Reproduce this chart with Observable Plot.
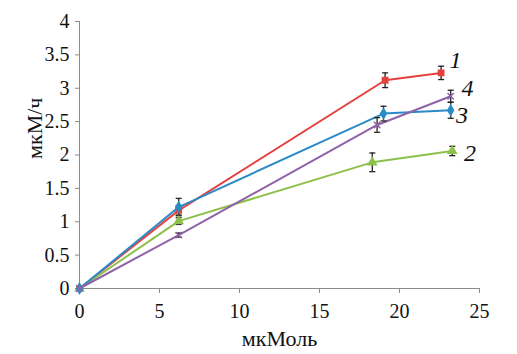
<!DOCTYPE html>
<html><head><meta charset="utf-8">
<script src="https://cdn.jsdelivr.net/npm/d3@7"></script>
<script src="https://cdn.jsdelivr.net/npm/@observablehq/plot@0.6"></script>
<style>body{margin:0;background:#fff}</style>
</head><body><div id="chart"></div>
<script>
const seriesNames = ["1", "2", "3", "4"];
const seriesColors = ["#E5413E", "#8DC04A", "#2A8BC8", "#9062A8"];
const s1x = [0, 6.2, 19.1, 22.6], s1y = [0, 1.17, 3.12, 3.23], s1e = [0, 0.07, 0.11, 0.1];
const s2x = [0, 6.2, 18.3, 23.3], s2y = [0, 1.01, 1.89, 2.06], s2e = [0, 0.05, 0.14, 0.07];
const s3x = [0, 6.2, 19.0, 23.2], s3y = [0, 1.22, 2.62, 2.67], s3e = [0, 0.13, 0.11, 0.12];
const s4x = [0, 6.2, 18.6, 23.2], s4y = [0, 0.80, 2.45, 2.88], s4e = [0, 0.03, 0.11, 0.09];
const labelX = [23.5, 24.4, 23.9, 24.25];
const labelY = [3.42, 2.02, 2.59, 3.0];
const xTicks = [0, 5, 10, 15, 20, 25];
const yTicks = [0, 0.5, 1, 1.5, 2, 2.5, 3, 3.5, 4];

const xs = [s1x, s2x, s3x, s4x], ys = [s1y, s2y, s3y, s4y], es = [s1e, s2e, s3e, s4e];
const data = [];
seriesNames.forEach((s, i) => xs[i].forEach((x, j) => data.push({s, x, y: ys[i][j], e: es[i][j]})));
const errData = data.filter(d => d.e > 0);
const labels = seriesNames.map((s, i) => ({s, x: labelX[i], y: labelY[i]}));
const symbols = ["square", "triangle", "diamond", "times"];
const capSym = {draw(ctx, size) { const r = Math.sqrt(size); ctx.moveTo(-r, 0); ctx.lineTo(r, 0); }};
const gray = "#8a8a8a";
const font = "Liberation Serif";

const chart = Plot.plot({
  width: 517, height: 354,
  marginLeft: 79, marginRight: 38, marginTop: 21, marginBottom: 66,
  style: {fontFamily: font, fontSize: "20px", color: "#111", background: "#fff"},
  x: {domain: [0, 25]},
  y: {domain: [0, 4]},
  color: {domain: seriesNames, range: seriesColors},
  symbol: {domain: seriesNames, range: symbols},
  marks: [
    Plot.axisX({ticks: xTicks, tickSize: 5, tickPadding: 10, label: null, stroke: gray, fontSize: 20, fill: "#111"}),
    Plot.axisY({ticks: yTicks, tickSize: 4, tickPadding: 6, label: null, stroke: gray, fontSize: 20, fill: "#111", tickFormat: d => String(d)}),
    Plot.ruleY([0], {stroke: gray}),
    Plot.ruleX([0], {stroke: gray}),
    Plot.line(data, {x: "x", y: "y", z: "s", stroke: "s", strokeWidth: 2}),
    Plot.ruleX(errData, {x: "x", y1: d => d.y - d.e, y2: d => d.y + d.e, stroke: "#222", strokeWidth: 1.3}),
    Plot.dot(errData, {x: "x", y: d => d.y - d.e, symbol: () => capSym, r: 1.7, stroke: "#222", strokeWidth: 1.3}),
    Plot.dot(errData, {x: "x", y: d => d.y + d.e, symbol: () => capSym, r: 1.7, stroke: "#222", strokeWidth: 1.3}),
    Plot.dot(data, {x: "x", y: "y", fill: "s", stroke: "s", symbol: "s", r: 3}),
    Plot.text(labels, {x: "x", y: "y", text: "s", fontStyle: "italic", fontSize: 24, fill: "#111"}),
    Plot.text(["мкМоль"], {x: [12.5], y: [0], dy: 50, fontSize: 22, fill: "#111"}),
    Plot.text(["мкМ/ч"], {x: [0], y: [2.4], rotate: -90, dx: -45, fontSize: 22, fill: "#111"})
  ]
});
document.getElementById("chart").append(chart);
</script>
</body></html>
